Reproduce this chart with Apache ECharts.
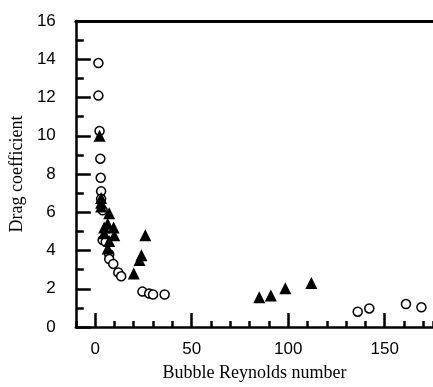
<!DOCTYPE html>
<html>
<head>
<meta charset="utf-8">
<script src="https://cdn.jsdelivr.net/npm/echarts@6/dist/echarts.min.js"></script>
<style>
  html, body { margin: 0; padding: 0; background: #fff; }
  #chart { width: 433px; height: 387px; }
</style>
</head>
<body>
<div id="chart"></div>
<script>
// data: [Reynolds number, drag coefficient]
const circlePoints = [
  [1.7, 13.8], [1.7, 12.1], [2.3, 10.25], [2.7, 8.8], [2.9, 7.8], [3.1, 7.1],
  [3.1, 6.7], [3.9, 6.1], [3.9, 4.55], [5.5, 4.45], [7.3, 3.8], [7.3, 3.55],
  [9.4, 3.3], [12, 2.85], [13.5, 2.65], [24.5, 1.85], [28, 1.75], [30, 1.7],
  [36, 1.7], [136, 0.8], [142, 0.97], [161, 1.2], [169, 1.03]
]
const trianglePoints = [
  [2.3, 10.0], [3.1, 6.75], [3.1, 6.5], [3.1, 6.3], [7.3, 5.95], [6.5, 5.4],
  [4.7, 5.2], [9.6, 5.2], [4.7, 4.9], [9.9, 4.8], [7.3, 4.5], [6.5, 4.1],
  [26, 4.8], [24, 3.75], [23, 3.5], [20, 2.8], [85, 1.55], [91, 1.65],
  [98.5, 2.03], [112, 2.3]
]
const xMajorTicks = [0, 50, 100, 150]

const chart = echarts.init(document.getElementById('chart'))

const labelFont = { color: '#000', fontFamily: 'Liberation Sans', fontSize: 17 }
const titleFont = { color: '#000', fontFamily: 'Liberation Serif', fontSize: 18 }
const tickStyle = { color: '#000', width: 2.5 }

chart.setOption({
  animation: false,
  grid: { left: 74, top: 21, right: 0, bottom: 58 },
  xAxis: [
    {
      // short ticks every 10 + labels
      type: 'value', min: -10, max: 175, interval: 10, position: 'bottom',
      axisLine: { onZero: false, lineStyle: { color: '#000', width: 2.5 } },
      axisTick: { inside: true, length: 6, lineStyle: tickStyle },
      axisLabel: { ...labelFont, margin: 14, customValues: xMajorTicks },
      splitLine: { show: false },
      name: 'Bubble Reynolds number', nameLocation: 'middle', nameGap: 37,
      nameTextStyle: titleFont
    },
    {
      // long ticks at 0, 50, 100, 150
      type: 'value', min: -10, max: 175, position: 'bottom',
      axisLine: { show: false, onZero: false },
      axisTick: { inside: true, length: 14, customValues: xMajorTicks, lineStyle: tickStyle },
      axisLabel: { show: false },
      splitLine: { show: false }
    },
    {
      // top border line
      type: 'value', min: -10, max: 175, position: 'top',
      axisLine: { onZero: false, lineStyle: { color: '#000', width: 3 } },
      axisTick: { show: false }, axisLabel: { show: false }, splitLine: { show: false }
    }
  ],
  yAxis: [
    {
      type: 'value', min: 0, max: 16, interval: 2, position: 'left',
      axisLine: { show: true, onZero: false, lineStyle: { color: '#000', width: 2.5 } },
      axisTick: { inside: true, length: 15, lineStyle: tickStyle },
      axisLabel: { ...labelFont, margin: 20 },
      splitLine: { show: false },
      name: 'Drag coefficient', nameLocation: 'middle', nameGap: 42,
      nameTextStyle: titleFont
    },
    {
      // short ticks every 1
      type: 'value', min: 0, max: 16, interval: 1, position: 'left',
      axisLine: { show: false, onZero: false },
      axisTick: { show: true, inside: true, length: 8, lineStyle: tickStyle },
      axisLabel: { show: false },
      splitLine: { show: false }
    }
  ],
  series: [
    {
      type: 'scatter', data: circlePoints, symbol: 'circle', symbolSize: 9,
      itemStyle: { color: '#fff', borderColor: '#000', borderWidth: 1.5, opacity: 1 }
    },
    {
      type: 'scatter', data: trianglePoints, symbol: 'triangle', symbolSize: 12,
      itemStyle: { color: '#000', opacity: 1 }
    }
  ]
})
</script>
</body>
</html>
